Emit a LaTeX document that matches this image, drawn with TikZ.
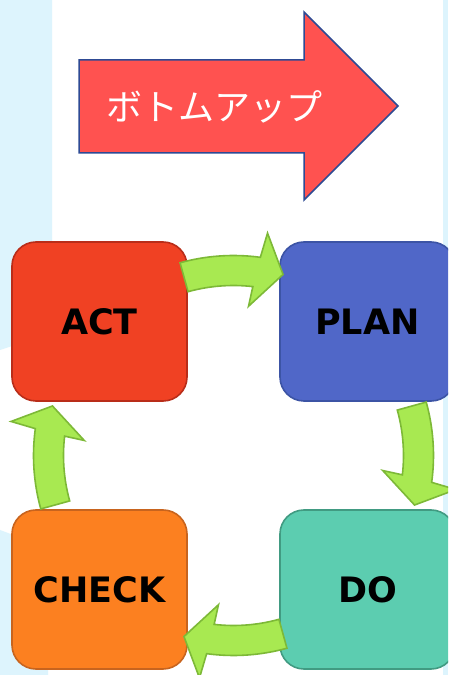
\documentclass[tikz,border=0pt]{standalone}
\usepackage{fontspec}
\newfontfamily\boxfont{DejaVu Sans}
\newfontfamily\jpfont{Noto Sans CJK JP}
\usetikzlibrary{calc}
\definecolor{bgblue}{RGB}{221,244,253}
\definecolor{redfill}{RGB}{255,82,80}
\definecolor{redline}{RGB}{46,74,148}
\definecolor{actfill}{RGB}{240,65,35}
\definecolor{actline}{RGB}{185,45,25}
\definecolor{planfill}{RGB}{80,103,200}
\definecolor{planline}{RGB}{60,84,165}
\definecolor{checkfill}{RGB}{252,128,32}
\definecolor{checkline}{RGB}{200,100,30}
\definecolor{dofill}{RGB}{92,205,176}
\definecolor{doline}{RGB}{65,155,130}
\definecolor{grfill}{RGB}{168,233,81}
\definecolor{grline}{RGB}{125,185,55}
\tikzset{
  stepbox/.style={rounded corners=24pt, minimum width=175pt, minimum height=159pt,
    inner sep=0pt, line width=1.6pt, text=black,
    font=\boxfont\bfseries\fontsize{35}{42}\selectfont},
  cyclearrow/.style={fill=grfill, draw=grline, line width=1.6pt, line join=miter},
  bigarrow/.style={fill=redfill, draw=redline, line width=1.5pt, line join=miter}
}
\newcommand{\cycarrow}[1]{%
  \path[cyclearrow] ($(C)+(#1+15.5:200pt)$) -- ($(C)+(#1+15.5:170pt)$)
    arc[start angle=#1+15.5, end angle=#1-6.54, radius=170pt]
    -- ($(C)+(#1-5.75:150pt)$) -- ($(C)+(#1-15.3:187.7pt)$)
    -- ($(C)+(#1-8.7:225pt)$) -- ($(C)+(#1-7.72:200pt)$)
    arc[start angle=#1-7.72, end angle=#1+15.5, radius=200pt] -- cycle;}
\begin{document}
\begin{tikzpicture}[x=1pt,y=1pt]
\useasboundingbox (0,0) rectangle (448,675);
\clip (0,0) rectangle (448,675);
\fill[white] (0,0) rectangle (448,675);
\fill[bgblue] (0,675) -- (52,675) -- (52,342) -- (0,325) -- cycle;
\fill[bgblue] (0,0) -- (48,0) -- (48,127) -- (0,145) -- cycle;
\fill[bgblue] (443,0) rectangle (448,675);
% top arrow
\path[bigarrow] (79,615) -- (304,615) -- (304,663) -- (398,569) -- (304,475)
  -- (304,522) -- (79,522) -- cycle;
\node[text=white, font=\jpfont\fontsize{36}{40}\selectfont, inner sep=0pt]
  (title) at (214,568) {ボトムアップ};
% boxes
\node[stepbox, fill=actfill, draw=actline] (act) at (99.5,353.5) {ACT};
\node[stepbox, fill=planfill, draw=planline] (plan) at (367.5,353.5) {PLAN};
\node[stepbox, fill=checkfill, draw=checkline] (check) at (99.5,85.5) {CHECK};
\node[stepbox, fill=dofill, draw=doline] (do) at (367.5,85.5) {DO};
\coordinate (C) at ($(act)!0.5!(do)$);
% cycle arrows
\cycarrow{90}
\cycarrow{0}
\cycarrow{-90}
\cycarrow{180}
\end{tikzpicture}
\end{document}
